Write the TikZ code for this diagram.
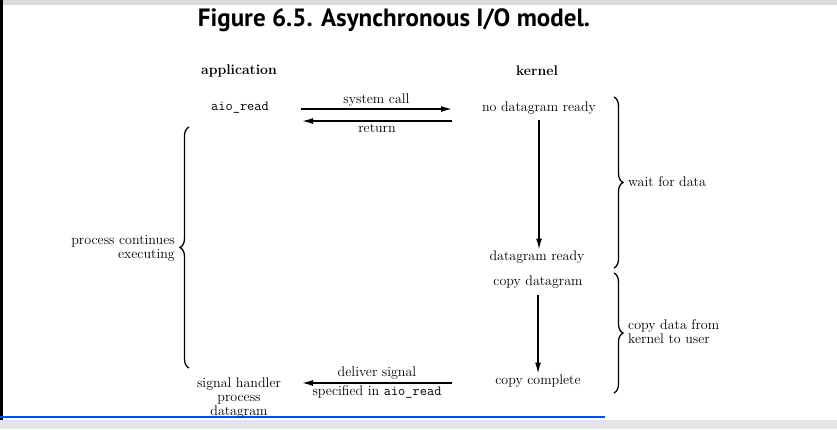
\documentclass[tikz,border=0pt]{standalone}
\usepackage{fontspec}
\usetikzlibrary{arrows.meta,decorations.pathreplacing}
\newfontfamily\titlefont{PT Sans}

\tikzset{
	txt/.style={inner sep=1pt, font=\fontsize{14}{15}\selectfont},
	hdr/.style={inner sep=1pt, font=\fontsize{14}{15}\selectfont\bfseries},
	arr/.style={line width=1.4pt, -{Latex[length=11pt,width=6pt]}},
	brc/.style={line width=1.3pt, decoration={brace, amplitude=9pt}, decorate}
}

\begin{document}
\begin{tikzpicture}[x=1pt, y=-1pt]
		% page and screen edges
		\useasboundingbox (0,0) rectangle (837,429);
		\fill[white] (0,0) rectangle (837,429);
		\fill[gray!30] (0,0) rectangle (837,5);
		\fill[black] (0,0) rectangle (3,429);
		\fill[gray!20] (0,420) rectangle (837,429);
		\draw[line width=2pt, blue!70!cyan] (0,417) -- (605,417);

		% title and column heads
		\node[font=\titlefont\bfseries\fontsize{25}{27}\selectfont, inner sep=0pt] (title) at (394,20) {Figure 6.5. Asynchronous I/O model.};
		\node[hdr] (app) at (239,71) {application};
		\node[hdr] (ker) at (537,71) {kernel};

		% application side
		\node[txt] (aio) at (240,108) {\texttt{aio\_read}};
		\node[txt, align=center] (sig) at (239,398) {signal handler\\[-1pt]process\\[-1pt]datagram};
		\node[txt, anchor=east, align=right] (cont) at (176,248) {process continues\\[-1pt]executing};

		% kernel side
		\node[txt] (nodr) at (539,108) {no datagram ready};
		\node[txt] (dr) at (537,257) {datagram ready};
		\node[txt] (cpd) at (538,282) {copy datagram};
		\node[txt] (cpc) at (538,381) {copy complete};
		\node[txt, anchor=west] (wait) at (627,182) {wait for data};
		\node[txt, anchor=west, align=left] (cdk) at (627,332) {copy data from\\[-1pt]kernel to user};

		% horizontal connectors
		\coordinate (callA) at (301,109);
		\coordinate (callB) at (452,109);
		\coordinate (retA) at (452,121);
		\coordinate (retB) at (302,121);
		\coordinate (sigA) at (452,383);
		\coordinate (sigB) at (302,383);
		\draw[arr] (callA) -- node[txt, above=1pt] {system call} (callB);
		\draw[arr] (retA) -- node[txt, below=1pt] {return} (retB);
		\draw[arr] (sigA) -- node[txt, above=2pt] {deliver signal} node[txt, below=1pt] {specified in \texttt{aio\_read}} (sigB);

		% vertical connectors
		\draw[arr] ([yshift=-5pt]nodr.south) -- (nodr.south |- dr.north);
		\draw[arr] ([yshift=-5pt]cpd.south -| cpc.north) -- (cpc.north);

		% braces
		\draw[brc] (614,97) -- (614,268);
		\draw[brc] (614,273) -- (614,393);
		\draw[brc] (189,368) -- (189,127);
\end{tikzpicture}
\end{document}
